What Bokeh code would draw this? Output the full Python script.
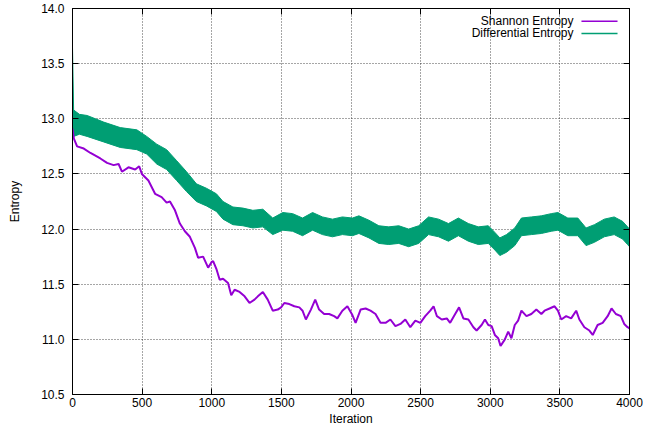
from bokeh.plotting import figure
from bokeh.models import Range1d, LinearAxis, Label, Arrow, FixedTicker, CustomJSTickFormatter
from bokeh.embed import file_html
from bokeh.resources import INLINE

# ---- data ----
shannon_iter = [0, 10, 33, 81, 129, 200, 248, 295, 331, 355, 402, 450, 479, 498, 545, 593, 640, 676, 700,
                736, 771, 807, 843, 879, 902, 938, 974, 998, 1010, 1033, 1057, 1081, 1117, 1140, 1164, 1200,
                1236, 1271, 1307, 1331, 1367, 1402, 1438, 1474, 1498, 1521, 1557, 1593, 1629, 1652, 1676,
                1712, 1743, 1771, 1807, 1843, 1879, 1902, 1938, 1974, 2010, 2033, 2069, 2105, 2140, 2176,
                2212, 2248, 2283, 2319, 2355, 2390, 2426, 2462, 2498, 2533, 2569, 2593, 2617, 2652, 2688,
                2712, 2748, 2776, 2807, 2843, 2879, 2902, 2938, 2962, 2986, 3010, 3033, 3057, 3074, 3105,
                3129, 3152, 3176, 3200, 3224, 3260, 3295, 3331, 3367, 3390, 3426, 3462, 3486, 3510, 3545,
                3581, 3617, 3640, 3676, 3712, 3736, 3771, 3807, 3843, 3871, 3902, 3938, 3962, 3986, 4000]
shannon_val = [12.91, 12.82, 12.75, 12.73, 12.69, 12.64, 12.60, 12.58, 12.59, 12.52, 12.56, 12.54, 12.57,
               12.50, 12.44, 12.32, 12.29, 12.24, 12.25, 12.17, 12.05, 11.98, 11.93, 11.83, 11.74, 11.75,
               11.65, 11.70, 11.71, 11.64, 11.54, 11.55, 11.51, 11.40, 11.45, 11.43, 11.39, 11.33, 11.36,
               11.39, 11.43, 11.36, 11.26, 11.27, 11.29, 11.33, 11.32, 11.30, 11.29, 11.26, 11.18, 11.27,
               11.36, 11.27, 11.23, 11.23, 11.21, 11.19, 11.26, 11.30, 11.22, 11.15, 11.27, 11.28, 11.26,
               11.23, 11.15, 11.15, 11.18, 11.12, 11.14, 11.18, 11.11, 11.17, 11.15, 11.21, 11.26, 11.30,
               11.21, 11.18, 11.19, 11.15, 11.23, 11.29, 11.19, 11.18, 11.11, 11.08, 11.13, 11.18, 11.13,
               11.12, 11.04, 11.01, 10.94, 11.00, 11.07, 11.01, 11.13, 11.17, 11.26, 11.21, 11.23, 11.27,
               11.23, 11.26, 11.28, 11.30, 11.26, 11.18, 11.21, 11.19, 11.26, 11.18, 11.11, 11.08, 11.04,
               11.13, 11.15, 11.21, 11.28, 11.23, 11.21, 11.14, 11.11, 11.10]

# Differential entropy: dense noisy trace, kept as its read lower / upper envelope
diff_iter = [0, 8, 50, 105, 224, 343, 462, 533, 605, 676, 748, 819, 890, 962, 1033, 1081, 1152, 1224, 1295,
             1367, 1438, 1510, 1581, 1652, 1724, 1795, 1867, 1938, 2010, 2057, 2129, 2200, 2271, 2343, 2414,
             2486, 2557, 2629, 2700, 2771, 2843, 2914, 2986, 3033, 3069, 3117, 3176, 3224, 3295, 3367, 3438,
             3486, 3557, 3629, 3688, 3748, 3819, 3890, 3950, 3986, 4000]
diff_lower = [12.84, 12.84, 12.86, 12.84, 12.79, 12.74, 12.72, 12.68, 12.59, 12.54,
              12.44, 12.34, 12.25, 12.21, 12.16, 12.09, 12.04, 12.03, 12.01, 12.02,
              11.95, 11.99, 11.98, 11.94, 11.99, 11.95, 11.93, 11.95, 11.94, 11.96,
              11.92, 11.87, 11.86, 11.87, 11.84, 11.87, 11.95, 11.93, 11.89, 11.94,
              11.89, 11.86, 11.87, 11.81, 11.76, 11.79, 11.85, 11.94, 11.95, 11.96,
              11.98, 11.99, 11.94, 11.94, 11.85, 11.88, 11.93, 11.95, 11.91, 11.86,
              11.84]
diff_upper = [13.65, 13.08, 13.04, 13.03, 12.97, 12.92, 12.90, 12.84, 12.77, 12.72,
              12.62, 12.52, 12.41, 12.37, 12.32, 12.25, 12.20, 12.19, 12.17, 12.18,
              12.10, 12.15, 12.14, 12.10, 12.15, 12.11, 12.09, 12.11, 12.10, 12.12,
              12.08, 12.03, 12.02, 12.03, 12.00, 12.03, 12.11, 12.09, 12.05, 12.10,
              12.05, 12.02, 12.03, 11.97, 11.92, 11.95, 12.01, 12.10, 12.11, 12.12,
              12.14, 12.15, 12.10, 12.10, 12.01, 12.04, 12.09, 12.11, 12.07, 12.02,
              12.00]

x_ticks = [0, 500, 1000, 1500, 2000, 2500, 3000, 3500, 4000]
y_ticks = [10.5, 11.0, 11.5, 12.0, 12.5, 13.0, 13.5, 14.0]
series_names = ["Shannon Entropy", "Differential Entropy"]
purple = "#9400D3"
green = "#009E73"
FONT = "Liberation Sans"

p = figure(width=643, height=428, output_backend="svg", toolbar_location=None,
           x_range=Range1d(0, 4000), y_range=Range1d(10.5, 14.0),
           min_border_left=72, min_border_right=14, min_border_top=8, min_border_bottom=33)
p.background_fill_color = "white"
p.border_fill_color = "white"
p.outline_line_color = "black"
p.outline_line_width = 1

# data
p.varea(x=diff_iter, y1=diff_lower, y2=diff_upper, fill_color=green, fill_alpha=1.0)
p.line(diff_iter, diff_lower, line_color=green, line_width=1)
p.line(diff_iter, diff_upper, line_color=green, line_width=1)
p.line(shannon_iter, shannon_val, line_color=purple, line_width=2)

# axes
for ax in [p.xaxis[0], p.yaxis[0]]:
    ax.major_tick_in = 6
    ax.major_tick_out = 0
    ax.minor_tick_line_color = None
    ax.axis_line_color = "black"
    ax.major_tick_line_color = "black"
    ax.major_label_text_font = FONT
    ax.major_label_text_font_size = "12px"
    ax.major_label_text_color = "black"
    ax.axis_label_text_font = FONT
    ax.axis_label_text_font_size = "12px"
    ax.axis_label_text_font_style = "normal"
    ax.axis_label_text_color = "black"

p.xaxis[0].ticker = FixedTicker(ticks=x_ticks)
p.yaxis[0].ticker = FixedTicker(ticks=y_ticks)
p.yaxis[0].formatter = CustomJSTickFormatter(code="return tick.toFixed(1);")
p.xaxis[0].axis_label = "Iteration"
p.yaxis[0].axis_label = "Entropy"
p.xaxis[0].major_label_standoff = 3
p.xaxis[0].axis_label_standoff = 2
p.yaxis[0].major_label_standoff = 8
p.yaxis[0].axis_label_standoff = 16

# mirrored ticks
blank = CustomJSTickFormatter(code="return '';")
right_ax = LinearAxis(ticker=FixedTicker(ticks=y_ticks), formatter=blank, major_tick_in=6, major_tick_out=0,
                      minor_tick_line_color=None, axis_line_color="black", major_label_text_font_size="0px",
                      major_label_standoff=0)
top_ax = LinearAxis(ticker=FixedTicker(ticks=x_ticks), formatter=blank, major_tick_in=6, major_tick_out=0,
                    minor_tick_line_color=None, axis_line_color="black", major_label_text_font_size="0px",
                    major_label_standoff=0)
p.add_layout(right_ax, "right")
p.add_layout(top_ax, "above")

# grid
for g in [p.xgrid[0], p.ygrid[0]]:
    g.grid_line_color = "black"
    g.grid_line_alpha = 0.7
    g.grid_line_dash = "1 2"
    g.grid_line_width = 1
p.xgrid[0].ticker = FixedTicker(ticks=x_ticks)
p.ygrid[0].ticker = FixedTicker(ticks=y_ticks)

# legend (gnuplot style: label right-aligned, sample on the right)
leg_y = [13.885, 13.774]
leg_colors = [purple, green]
for name, yy, col in zip(series_names, leg_y, leg_colors):
    p.add_layout(Label(x=3598, y=yy, text=name, text_align="right", text_baseline="middle",
                       text_font=FONT, text_font_size="12px", text_color="black"))
    p.add_layout(Arrow(end=None, x_start=3655, y_start=yy, x_end=3914, y_end=yy,
                       line_color=col, line_width=1.5))

open("out.html", "w").write(file_html(p, INLINE))
